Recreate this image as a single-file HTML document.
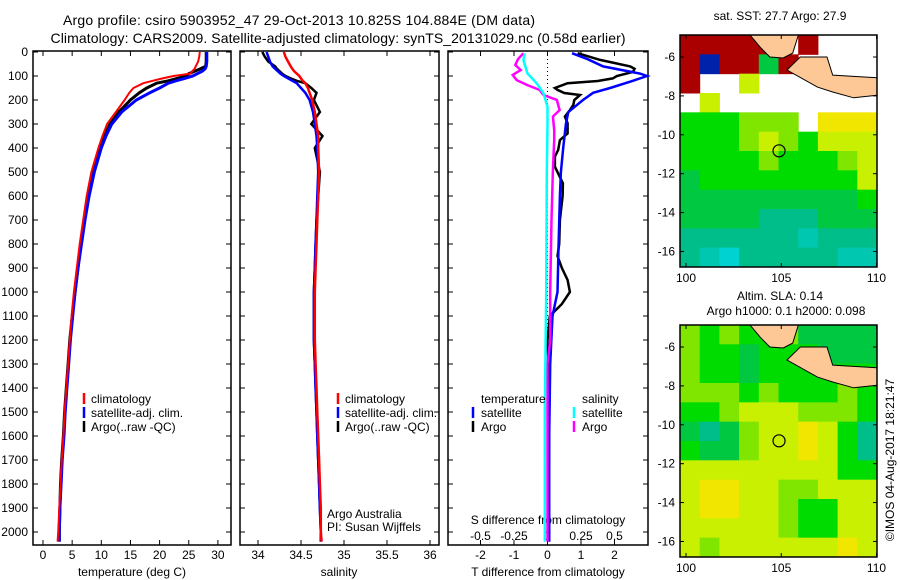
<!DOCTYPE html>
<html><head><meta charset="utf-8">
<style>
html,body{margin:0;padding:0;background:#fff;}
svg{display:block;font-family:"Liberation Sans",sans-serif;}
text{fill:#000;}
</style></head>
<body>
<svg id="chart" width="900" height="580" viewBox="0 0 900 580">
<text x="299" y="25" font-size="14" text-anchor="middle" textLength="472">Argo profile: csiro 5903952_47 29-Oct-2013 10.825S 104.884E (DM data)</text>
<text x="338" y="43" font-size="14" text-anchor="middle" textLength="575">Climatology: CARS2009. Satellite-adjusted climatology: synTS_20131029.nc (0.58d earlier)</text>
<text x="780" y="20" font-size="12" text-anchor="middle">sat. SST: 27.7 Argo: 27.9</text>
<text x="780" y="300" font-size="12" text-anchor="middle">Altim. SLA: 0.14</text>
<text x="786" y="315" font-size="12" text-anchor="middle">Argo h1000: 0.1 h2000: 0.098</text>
<text transform="translate(894,460) rotate(-90)" font-size="12" text-anchor="middle">©IMOS 04-Aug-2017 18:21:47</text>
<g id="g"></g>
</svg>
<script>
// ---- profile data ----
const tDepth = [0,20,40,60,70,80,90,100,110,120,130,150,170,200,250,300,350,400,500,600,700,800,900,1000,1100,1200,1300,1400,1500,1600,1700,1800,1900,2000,2040];
const tClim = [26.9,26.8,26.6,26.2,26,25.6,25.3,22.4,20.5,18.8,17.2,15.5,14.8,14,12.5,11,10.2,9.5,8.3,7.5,6.9,6.3,5.8,5.3,4.9,4.6,4.3,4.0,3.7,3.5,3.2,3.0,2.8,2.6,2.5];
const tSat = [28.1,28.1,28.1,28.0,27.8,27.3,26.5,25.7,24.3,22.8,21.5,20,18.3,16,13.5,11.8,10.8,10,8.8,7.9,7.2,6.6,6.0,5.5,5.1,4.7,4.4,4.1,3.8,3.6,3.3,3.1,2.9,2.8,2.8];
const tArgo = [28.0,28.0,28.0,27.9,27.0,26.0,25.0,24.6,23,21.5,19.5,17.8,16.5,15,13,11.5,10.5,9.8,8.7,7.8,7.1,6.5,6.0,5.5,5.0,4.6,4.3,4.0,3.7,3.5,3.2,3.0,2.9,2.8,2.8];
const sClim = [34.3,34.32,34.35,34.38,34.4,34.42,34.45,34.48,34.5,34.52,34.55,34.58,34.6,34.63,34.66,34.68,34.7,34.7,34.71,34.7,34.69,34.68,34.67,34.66,34.66,34.66,34.67,34.68,34.69,34.7,34.71,34.72,34.73,34.73,34.74];
const sSat = [34.1,34.12,34.14,34.17,34.2,34.23,34.26,34.3,34.35,34.4,34.45,34.5,34.55,34.6,34.64,34.66,34.68,34.69,34.7,34.69,34.68,34.67,34.66,34.65,34.65,34.65,34.66,34.67,34.68,34.69,34.7,34.71,34.72,34.73,34.73];
const sArgo = [34.05,34.08,34.12,34.2,34.22,34.25,34.28,34.32,34.38,34.45,34.55,34.62,34.68,34.65,34.72,34.62,34.75,34.66,34.72,34.7,34.68,34.67,34.66,34.65,34.65,34.65,34.66,34.67,34.68,34.69,34.7,34.71,34.72,34.73,34.73];
const dtSatD = [5,30,60,90,100,120,150,170,200,250,300,400,500,600,800,1000,1100,1300,1600,2000,2040];
const dtSat = [0.73,1.2,1.66,2.76,2.97,2.55,1.87,1.36,1.06,0.62,0.55,0.47,0.4,0.37,0.33,0.3,0.15,0.08,0.05,0.05,0.05];
const dtArgoD = [5,33,60,70,83,100,110,121,130,150,158,171,179,200,221,242,269,297,339,367,408,436,478,547,600,700,800,850,900,950,1000,1050,1100,1200,1400,1600,1800,2000,2040];
const dtArgo = [0.9,1.57,2.47,2.6,2.55,2.07,1.95,1.5,0.6,0.22,0.3,0.5,0.97,0.8,0.77,0.67,0.52,0.6,0.6,0.37,0.32,0.22,0.22,0.46,0.45,0.37,0.35,0.3,0.43,0.6,0.67,0.43,0.07,0.0,0.05,0.05,0.03,0.05,0.05];
const dsArgoD = [5,30,54,75,96,117,138,158,179,200,221,242,269,325,367,492,700,1000,1200,1300,1600,1900,2040];
const dsArgo = [-0.18,-0.22,-0.24,-0.2,-0.26,-0.23,-0.15,-0.06,-0.03,0.07,0.08,0.09,0.04,0.05,0.05,0.04,0.03,0.02,0.02,0.0,0.0,0.0,0.0];
const dsSatD = [5,33,89,131,172,228,300,500,1000,1500,1800,2040];
const dsSat = [-0.17,-0.18,-0.15,-0.08,-0.03,0,0,-0.005,-0.01,-0.02,-0.02,-0.02];
const depthTicks = [0,100,200,300,400,500,600,700,800,900,1000,1100,1200,1300,1400,1500,1600,1700,1800,1900,2000];
const tempTicks = [0,5,10,15,20,25,30];
const salTicks = [34,34.5,35,35.5,36];
const tdTicks = [-2,-1,0,1,2];
const sdTicks = [-0.5,-0.25,0,0.25,0.5];
const sdTickLabels = ["-0.5","-0.25","0","0.25","0.5"];
// ---- map data (10 columns across lon range, 12 rows from lat -4.9 southward) ----
const sstRow0 = [9,9,9,9,9,null,9,null,null,null];
const sstRow1 = [9,-1,9,9,2,9,null,null,null,null];
const sstRow2 = [9,null,null,5,null,null,null,null,null,null];
const sstRow3 = [null,5,null,null,null,null,null,null,null,null];
const sstRow4 = [3,3,3,4,4,4,null,6,6,6];
const sstRow5 = [3,3,3,4,5,4,3,5,5,5];
const sstRow6 = [3,3,3,3,4,3,3,3,4,5];
const sstRow7 = [2,3,3,3,3,3,3,3,3,5];
const sstRow8 = [2,2,2,2,2,2,2,2,2,3];
const sstRow9 = [2,2,2,2,1,1,1,2,2,2];
const sstRow10 = [1,1,1,1,1,1,0.5,1,1,1];
const sstRow11 = [1,0.5,0,1,1,1,1,1,0.5,0.5];
const slaRow0 = [4,3,4,3,3,4,2,2,2,2];
const slaRow1 = [4,3,3,2,3,3,3,2,2,2];
const slaRow2 = [4,3,3,2,3,3,3,3,3,3];
const slaRow3 = [4,4,4,3,4,3,3,3,4,3];
const slaRow4 = [3,3,4,5,5,5,4,4,4,3];
const slaRow5 = [2,1,2,4,5,5,6,5,3,1];
const slaRow6 = [3,2,2,4,5,5,6,5,3,1];
const slaRow7 = [5,5,5,5,5,5,5,5,3,3];
const slaRow8 = [5,6,6,5,5,4,4,5,5,5];
const slaRow9 = [5,6,6,5,5,4,3,3,5,5];
const slaRow10 = [5,5,5,5,5,4,3,3,5,5];
const slaRow11 = [5,4,5,5,5,5,5,5,6,5];
const floatLon = 104.884, floatLat = -10.825;
const lonTicks = [100,105,110];
const latTicks = [-6,-8,-10,-12,-14,-16];
const sumatraLon = [103.36,103.9,104.4,105.1,105.6,105.9,103.36];
const sumatraLat = [-4.87,-5.5,-6.0,-6.05,-5.8,-4.87,-4.87];
const javaLon = [106.0,107.4,107.7,110.2,110.2,108.8,107.7,106.9,105.3,106.0];
const javaLat = [-6.0,-6.0,-6.93,-7.08,-7.95,-8.1,-7.8,-7.55,-6.67,-6.0];

const NS="http://www.w3.org/2000/svg";
const G=document.getElementById('g');
function el(tag,attrs,parent){const e=document.createElementNS(NS,tag);for(const k in attrs)e.setAttribute(k,attrs[k]);(parent||G).appendChild(e);return e;}
function txt(x,y,s,size,anchor,parent){const t=el('text',{x:x,y:y,'font-size':size,'text-anchor':anchor||'middle'},parent);t.textContent=s;return t;}

const Y0=52, KY=0.24, YB=545, YT=51;
const yD=d=>Y0+d*KY;
const xT=v=>43+v*5.83;
const xS=v=>258+(v-34)*86;
const xDT=v=>547.5+v*33.5;
const xDS=v=>547.5+v*134;

function frame(x0,x1,name){
  const g=el('g',{});
  
  
  el('rect',{x:x0,y:YT,width:x1-x0,height:YB-YT,fill:'none',stroke:'#000','stroke-width':1.5},g);
  depthTicks.forEach(d=>{
    el('line',{x1:x0,x2:x0+5,y1:yD(d),y2:yD(d),stroke:'#000'},g);
    el('line',{x1:x1-5,x2:x1,y1:yD(d),y2:yD(d),stroke:'#000'},g);
  });
  return g;
}
function xticks(g,ticks,fx,labels,ly){
  ticks.forEach((t,i)=>{
    const x=fx(t);
    el('line',{x1:x,x2:x,y1:YB,y2:YB-5,stroke:'#000'},g);
    el('line',{x1:x,x2:x,y1:YT,y2:YT+5,stroke:'#000'},g);
    const lab=txt(x,ly,labels?labels[i]:String(t),12,'middle',g);
    
    
  });
}
function line(depths,vals,fx,color,name,w){
  const pts=depths.map((d,i)=>fx(vals[i]).toFixed(1)+','+yD(d).toFixed(1)).join(' ');
  const p=el('polyline',{points:pts,fill:'none',stroke:color,'stroke-width':w||2.5,'stroke-linejoin':'miter'});
  
  
}
function legMark(x,y,color,g){el('line',{x1:x,x2:x,y1:y-10,y2:y+1,stroke:color,'stroke-width':2.5},g);}

// panel 1
const g1=frame(33,231,'temperature-panel');
depthTicks.forEach(d=>{const t=txt(28,yD(d)+4,String(d),12,'end');
  
  });
xticks(g1,tempTicks,xT,null,559);
const xl1=txt(132,576,'temperature (deg C)',12);


line(tDepth,tArgo,xT,'#000','temp-argo-line',3);
line(tDepth,tSat,xT,'#0000ff','temp-satellite-line',3);
line(tDepth,tClim,xT,'#ff0000','temp-climatology-line',2);
[['climatology','#f00',403],['satellite-adj. clim.','#00f',417],['Argo(..raw -QC)','#000',431]].forEach(l=>{
  const lg=el('g',{});
  legMark(84,l[2],l[1],lg);txt(91,l[2],l[0],12,'start',lg);});

// panel 2
const g2=frame(240,439,'salinity-panel');
xticks(g2,salTicks,xS,null,559);
const xl2=txt(339,576,'salinity',12);


line(tDepth,sArgo,xS,'#000','sal-argo-line',2.5);
line(tDepth,sSat,xS,'#0000ff','sal-satellite-line',2.5);
line(tDepth,sClim,xS,'#ff0000','sal-climatology-line',2.5);
[['climatology','#f00',403],['satellite-adj. clim.','#00f',417],['Argo(..raw -QC)','#000',431]].forEach(l=>{
  const lg=el('g',{});
  legMark(338,l[2],l[1],lg);txt(345,l[2],l[0],12,'start',lg);});
const cr1=txt(327,518,'Argo Australia',12,'start');

const cr2=txt(327,531,'PI: Susan Wijffels',12,'start');


// panel 3
const g3=frame(448,648,'difference-panel');
tdTicks.forEach(t=>{const x=xDT(t);el('line',{x1:x,x2:x,y1:YB,y2:YB-5,stroke:'#000'},g3);el('line',{x1:x,x2:x,y1:YT,y2:YT+5,stroke:'#000'},g3);
  const l=txt(x,559,String(t),12,'middle',g3);});
sdTicks.forEach((t,i)=>{const x=xDS(t);el('line',{x1:x,x2:x,y1:YB,y2:YB-4,stroke:'#000'},g3);
  const l=txt(x,540,sdTickLabels[i],12,'middle',g3);});
const st=txt(548,524,'S difference from climatology',12);

const tt=txt(548,576,'T difference from climatology',12);

const zl=el('line',{x1:xDT(0),x2:xDT(0),y1:YT,y2:YB,stroke:'#000','stroke-dasharray':'1,3'});

line(dtArgoD,dtArgo,xDT,'#000','t-diff-argo-line',2.5);
line(dtSatD,dtSat,xDT,'#0000ff','t-diff-satellite-line',2.5);
line(dsArgoD,dsArgo,xDS,'#ff00ff','s-diff-argo-line',2.5);
line(dsSatD,dsSat,xDS,'#00ffff','s-diff-satellite-line',2.5);
[['temperature',null,403,481],['satellite','#00f',417,481],['Argo','#000',431,481],['salinity',null,403,582],['satellite','#0ff',417,582],['Argo','#f0f',431,582]].forEach(l=>{
  const lg=el('g',{});
  if(l[1])legMark(l[3]-8,l[2],l[1],lg);txt(l[3],l[2],l[0],12,'start',lg);});

// maps
const pal={'-1':'#0022aa','0':'#00d2d2','0.5':'#00c8b0','1':'#00be8a','2':'#00c840','3':'#00dc00','4':'#80e600','5':'#c8f000','6':'#f0e600','7':'#f09000','8':'#d00000','9':'#aa0000'};
const sstRows=[sstRow0,sstRow1,sstRow2,sstRow3,sstRow4,sstRow5,sstRow6,sstRow7,sstRow8,sstRow9,sstRow10,sstRow11];
const slaRows=[slaRow0,slaRow1,slaRow2,slaRow3,slaRow4,slaRow5,slaRow6,slaRow7,slaRow8,slaRow9,slaRow10,slaRow11];
function drawMap(top,bottom,latAt,rows,name,ly){
  const X0=680,X1=877;
  const lonX=lon=>686+(lon-100)*19.05;
  const kLat=(bottom-top)/11.93;
  const latY=lat=>latAt+(-6-lat)*kLat;
  const mg=el('g',{});
  
  
  const clipId=name+'-clip';
  const cp=el('clipPath',{id:clipId},mg);el('rect',{x:X0,y:top,width:X1-X0,height:bottom-top},cp);
  const cg=el('g',{'clip-path':'url(#'+clipId+')'},mg);
  const cw=(X1-X0)/10, ch=(bottom-top)/12;
  rows.forEach((row,r)=>row.forEach((v,c)=>{
    if(v===null)return;
    const cell=el('rect',{x:X0+c*cw,y:top+r*ch,width:cw+0.5,height:ch+0.5,fill:pal[String(v)]},cg);
    
    
  }));
  [[sumatraLon,sumatraLat],[javaLon,javaLat]].forEach(s=>{
    const pts=s[0].map((lo,i)=>lonX(lo).toFixed(1)+','+latY(s[1][i]).toFixed(1)).join(' ');
    const p=el('polygon',{points:pts,fill:'#fdc896',stroke:'#000','stroke-width':1},cg);
    
    
  });
  const fc=el('circle',{cx:lonX(floatLon),cy:latY(floatLat),r:6,fill:'none',stroke:'#000','stroke-width':1.2},mg);
  
  
  el('rect',{x:X0,y:top,width:X1-X0,height:bottom-top,fill:'none',stroke:'#000','stroke-width':1.5},mg);
  lonTicks.forEach(l=>{const x=lonX(l);el('line',{x1:x,x2:x,y1:bottom,y2:bottom-4,stroke:'#000'},mg);el('line',{x1:x,x2:x,y1:top,y2:top+4,stroke:'#000'},mg);
    const t=txt(x,ly,String(l),12,'middle',mg);});
  latTicks.forEach(l=>{const y=latY(l);el('line',{x1:X0,x2:X0+4,y1:y,y2:y,stroke:'#000'},mg);el('line',{x1:X1-4,x2:X1,y1:y,y2:y,stroke:'#000'},mg);
    const t=txt(675,y+4,String(l),12,'end',mg);});
}
drawMap(35,267,57,sstRows,'sst-map',282);
drawMap(325,557,347,slaRows,'sla-map',572);
</script>
</body></html>
